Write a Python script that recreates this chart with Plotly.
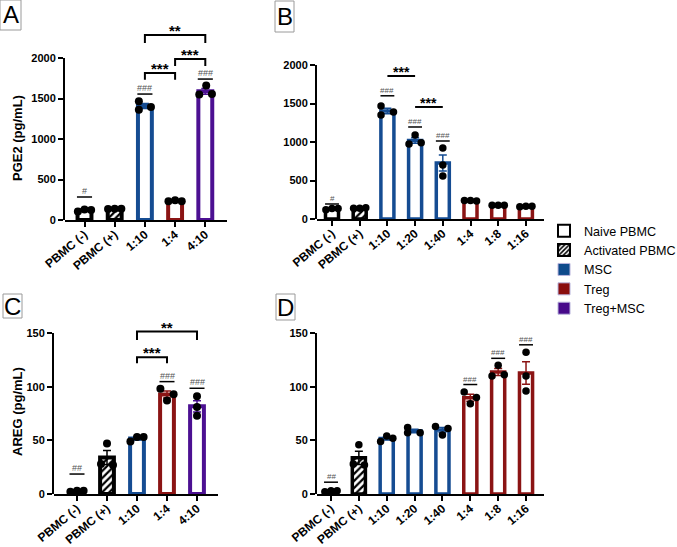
import numpy as np
import plotly.graph_objects as go

W, H = 677, 547
FONT = "Liberation Sans, Arial, sans-serif"

# ---------------- Data ----------------
cats_A = ["PBMC (-)", "PBMC (+)", "1:10", "1:4", "4:10"]
groups_A = ["naive", "activated", "msc", "treg", "tregmsc"]
pge2_A = [[105, 130, 125], [135, 140, 140], [1465, 1360, 1395],
          [230, 245, 230], [1660, 1550, 1555]]

cats_B = ["PBMC (-)", "PBMC (+)", "1:10", "1:20", "1:40", "1:4", "1:8", "1:16"]
groups_B = ["naive", "activated", "msc", "msc", "msc", "treg", "treg", "treg"]
pge2_B = [[120, 135, 135], [140, 140, 145], [1468, 1350, 1390],
          [975, 1090, 990], [922, 700, 560], [240, 240, 235],
          [180, 180, 180], [160, 165, 165]]

cats_C = ["PBMC (-)", "PBMC (+)", "1:10", "1:4", "4:10"]
groups_C = ["naive", "activated", "msc", "treg", "tregmsc"]
areg_C = [[2, 3, 3], [47, 28, 27], [49, 53, 53], [98, 87, 93], [91, 81, 73]]

cats_D = ["PBMC (-)", "PBMC (+)", "1:10", "1:20", "1:40", "1:4", "1:8", "1:16"]
groups_D = ["naive", "activated", "msc", "msc", "msc", "treg", "treg", "treg"]
areg_D = [[2, 3, 3], [46, 28, 27], [49, 54, 52], [62, 57, 57],
          [63, 55, 61], [95, 84, 90], [110, 120, 111], [132, 110, 96]]

# significance marks: (category index, label, level)
hash_A = [(0, "#", 284), (2, "###", 1555), (4, "###", 1740)]
hash_B = [(0, "#", 195), (2, "###", 1600), (3, "###", 1195), (4, "###", 1013)]
hash_C = [(0, "##", 18.6), (3, "###", 104.7), (4, "###", 98.5)]
hash_D = [(0, "##", 11), (5, "###", 102), (6, "###", 126.4), (7, "###", 139)]

# comparisons: (from idx, to idx, top level, leg bottom level, label)
brk_A = [(2, 3, 1815, 1730, "***"), (3, 4, 1988, 1900, "***"), (2, 4, 2284, 2185, "**")]
brk_B = [(2, 3, 1857, 1857, "***"), (3, 4, 1455, 1455, "***")]
brk_C = [(2, 3, 127.4, 121.8, "***"), (2, 4, 151.3, 143.5, "**")]

legend_names = ["Naive PBMC", "Activated PBMC", "MSC", "Treg", "Treg+MSC"]
legend_groups = ["naive", "activated", "msc", "treg", "tregmsc"]

# ---------------- Styles ----------------
EDGE = {"naive": "black", "activated": "black", "msc": "#154c92",
        "treg": "#8b1414", "tregmsc": "#4c1092"}
SOLID = {"msc": "#0e4a8b", "treg": "#8a0e0e", "tregmsc": "#470a8a"}

ROW = [-0.22, 0.0, 0.22]
jit_A = [ROW, ROW, [-0.2, -0.2, 0.2], ROW, [0.03, -0.2, 0.22]]
jit_B = [ROW, ROW, [-0.23, -0.23, 0.22], ROW, [0, 0, 0], ROW, ROW, ROW]
jit_C = [ROW, [0, -0.2, 0.2], ROW, ROW, [0, 0, 0]]
jit_D = [ROW, [0, -0.2, 0.2], ROW, [-0.25, -0.25, 0.2], [-0.25, 0, 0.2],
         ROW, ROW, [0, 0, 0]]


def px_x(p):
    return p / W


def px_y(p):
    return 1 - p / H


fig = go.Figure()


def panel(n, cats, groups, vals, jit, hashes, brks, x_left, x_right, c0, step,
          y0_px, ytop_px, ytop_val, tall_top_px, tickvals, bar_w, line_w,
          hash_size, star_size, dot_size):
    xa = "x" if n == 1 else f"x{n}"
    ya = "y" if n == 1 else f"y{n}"
    yv = f"y{n + 4}"
    xr = [(x_left - c0) / step, (x_right - c0) / step]
    tall_max = ytop_val * (y0_px - tall_top_px) / (y0_px - ytop_px)
    axis_common = dict(showline=True, linecolor="black", linewidth=2, ticks="outside",
                       ticklen=5, tickwidth=2, tickcolor="black", showgrid=False,
                       zeroline=False, fixedrange=True, automargin=False)
    fig.layout[("xaxis" if n == 1 else f"xaxis{n}")] = dict(
        domain=[px_x(x_left), px_x(x_right)], range=xr, anchor=ya,
        tickvals=list(range(len(cats))), ticktext=cats, tickangle=-40,
        ticklabelstandoff=-4,
        tickfont=dict(family=FONT, size=12, color="black", weight="bold"),
        **axis_common)
    fig.layout[("yaxis" if n == 1 else f"yaxis{n}")] = dict(
        domain=[px_y(y0_px), px_y(tall_top_px)], range=[0, tall_max], anchor=xa,
        visible=False, fixedrange=True, automargin=False)
    fig.layout[f"yaxis{n + 4}"] = dict(
        domain=[px_y(y0_px), px_y(ytop_px)], range=[0, ytop_val], anchor=xa,
        tickvals=tickvals,
        tickfont=dict(family=FONT, size=11, color="black", weight="bold"),
        **axis_common)
    fig.add_trace(go.Scatter(x=[None], y=[None], xaxis=xa, yaxis=yv,
                             showlegend=False, hoverinfo="skip"))
    for i, (g, v) in enumerate(zip(groups, vals)):
        v = np.array(v, float)
        m = v.mean()
        sem = v.std(ddof=1) / np.sqrt(len(v))
        marker = dict(color="white", line=dict(color=EDGE[g], width=line_w))
        if g == "activated":
            marker["pattern"] = dict(shape="/", fgcolor="black", bgcolor="white",
                                     size=5, solidity=0.45, fillmode="replace")
        fig.add_trace(go.Bar(x=[i], y=[m], width=bar_w, xaxis=xa, yaxis=ya,
                             marker=marker, showlegend=False, hoverinfo="skip",
                             error_y=dict(type="data", array=[sem], color=EDGE[g],
                                          thickness=1.5, width=4)))
        fig.add_trace(go.Scatter(x=i + np.array(jit[i]), y=v, mode="markers",
                                 xaxis=xa, yaxis=ya, showlegend=False, hoverinfo="skip",
                                 cliponaxis=False,
                                 marker=dict(color="black", size=dot_size, line=dict(width=0))))
    for (i, lab, lev) in hashes:
        fig.add_shape(type="line", xref=xa, yref=ya, x0=i - 0.25, x1=i + 0.25,
                      y0=lev, y1=lev, line=dict(color="black", width=1.5))
        fig.add_annotation(xref=xa, yref=ya, x=i, y=lev, text=lab, showarrow=False,
                           yanchor="bottom", yshift=-1,
                           font=dict(family=FONT, size=hash_size, color="#555555"))
    for (a, b, top, bot, lab) in brks:
        fig.add_shape(type="path", xref=xa, yref=ya,
                      path=f"M {a},{bot} L {a},{top} L {b},{top} L {b},{bot}",
                      line=dict(color="black", width=2))
        fig.add_annotation(xref=xa, yref=ya, x=(a + b) / 2, y=top, text=lab,
                           showarrow=False, yanchor="bottom", yshift=-6,
                           font=dict(family=FONT, size=star_size, color="black",
                                     weight="bold"))


panel(1, cats_A, groups_A, pge2_A, jit_A, hash_A, brk_A, 65, 227, 84.5, 30.2,
      220, 58, 2000, 0, [0, 500, 1000, 1500, 2000], 0.46, 4, 9, 15, 8)
panel(2, cats_B, groups_B, pge2_B, jit_B, hash_B, brk_B, 317, 544, 332, 27.7,
      219, 65, 2000, 30, [0, 500, 1000, 1500, 2000], 0.47, 3.5, 8, 14, 7.5)
panel(3, cats_C, groups_C, areg_C, jit_C, hash_C, brk_C, 54, 218, 77, 30,
      494, 333, 150, 300, [0, 50, 100, 150], 0.46, 4, 9, 15, 8)
panel(4, cats_D, groups_D, areg_D, jit_D, hash_D, [], 317, 544, 331, 27.86,
      494, 333, 150, 320, [0, 50, 100, 150], 0.47, 3.5, 8, 14, 7.5)

# legend-only entries
for name, g in zip(legend_names, legend_groups):
    if g == "naive":
        marker = dict(color="white", line=dict(color="black", width=2))
    elif g == "activated":
        marker = dict(color="white", line=dict(color="black", width=2),
                      pattern=dict(shape="/", fgcolor="black", bgcolor="white",
                                   size=4, solidity=0.5, fillmode="replace"))
    else:
        marker = dict(color=SOLID[g], line=dict(color="#b8b4dc", width=1))
    fig.add_trace(go.Bar(x=[None], y=[None], name=name, marker=marker,
                         xaxis="x", yaxis="y", legendgroup=g, showlegend=True))

# panel letters
letters = [("A", 0, 0, 21, 30), ("B", 275, 1, 294, 32), ("C", 3, 294, 22, 318),
           ("D", 276, 294, 295, 320)]
for (t, x0, y0, x1, y1) in letters:
    fig.add_shape(type="rect", xref="paper", yref="paper", x0=px_x(x0), x1=px_x(x1),
                  y0=px_y(y1), y1=px_y(y0), line=dict(color="#9a9a9a", width=1))
    fig.add_annotation(xref="paper", yref="paper", x=px_x((x0 + x1) / 2),
                       y=px_y((y0 + y1) / 2), text=t, showarrow=False,
                       xanchor="center", yanchor="middle",
                       font=dict(family=FONT, size=24, color="black"))

# y titles
for (t, cx, cy) in [("PGE2 (pg/mL)", 17, 138), ("AREG (pg/mL)", 17, 412)]:
    fig.add_annotation(xref="paper", yref="paper", x=px_x(cx), y=px_y(cy), text=t,
                       showarrow=False, textangle=-90, xanchor="center", yanchor="middle",
                       font=dict(family=FONT, size=13, color="black", weight="bold"))

fig.update_layout(
    template="none",
    width=W, height=H, margin=dict(l=0, r=0, t=0, b=0, pad=0, autoexpand=False),
    paper_bgcolor="white", plot_bgcolor="rgba(0,0,0,0)",
    barmode="overlay", showlegend=True,
    legend=dict(x=px_x(544), y=px_y(216), xanchor="left", yanchor="top",
                font=dict(family=FONT, size=12.6, color="black"),
                bgcolor="rgba(0,0,0,0)", borderwidth=0, tracegroupgap=0, itemwidth=30),
    font=dict(family=FONT, color="black"),
)

fig.write_html(
    "out.html",
    config={"displayModeBar": False},
    post_script="document.body.style.margin='0';document.body.style.padding='0';"
                "document.documentElement.style.margin='0';",
)
